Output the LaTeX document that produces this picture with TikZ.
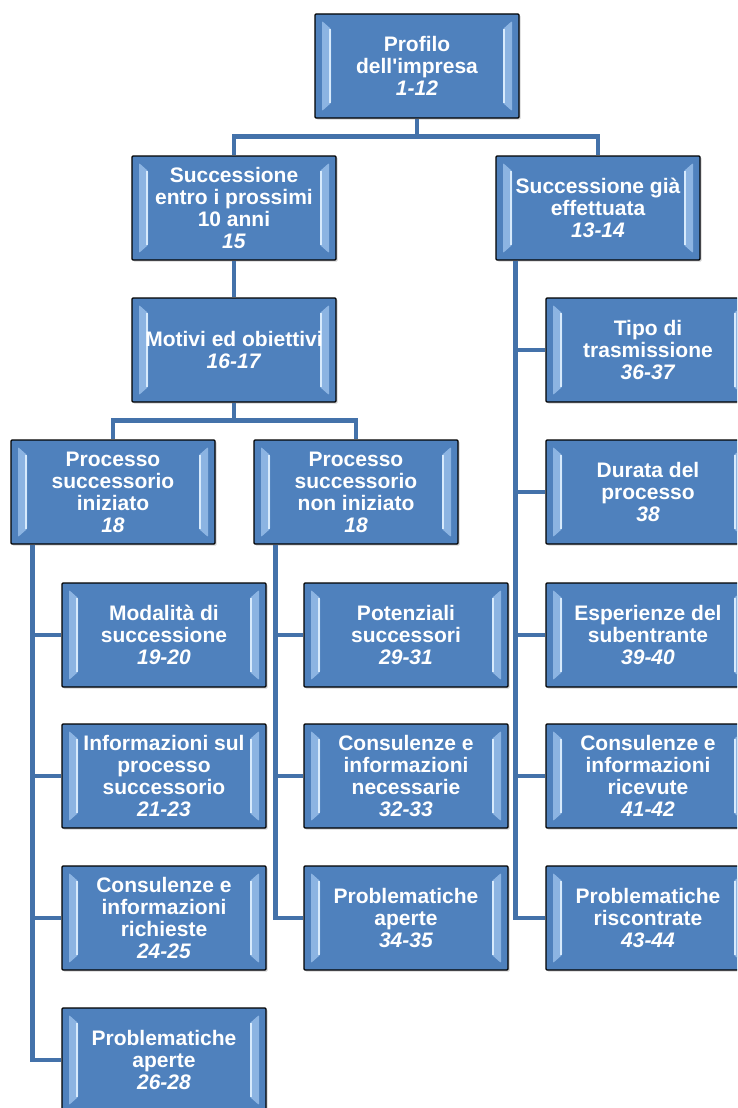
\documentclass[tikz,border=0pt]{standalone}
\usepackage{fontspec}
\setmainfont{Liberation Sans}
\usetikzlibrary{shadows}
\definecolor{boxblue}{RGB}{79,129,189}
\definecolor{bevelmid}{RGB}{140,180,226}
\definecolor{bevellight}{RGB}{215,234,252}
\definecolor{linkblue}{RGB}{68,114,170}
\newcommand{\nr}[1]{\textit{#1}}

\tikzset{
  bevel/.style={
    path picture={
      \fill[bevelmid]
        ([shift={(7pt,-7pt)}]path picture bounding box.north west) -- ++(9pt,-8pt)
        -- ([shift={(16pt,15pt)}]path picture bounding box.south west) -- ++(-9pt,-8pt) -- cycle;
      \draw[bevellight,line width=1.6pt]
        ([shift={(15pt,-15pt)}]path picture bounding box.north west)
        -- ([shift={(15pt,15pt)}]path picture bounding box.south west);
      \fill[bevelmid]
        ([shift={(-7pt,-7pt)}]path picture bounding box.north east) -- ++(-9pt,-8pt)
        -- ([shift={(-16pt,15pt)}]path picture bounding box.south east) -- ++(9pt,-8pt) -- cycle;
      \draw[bevellight,line width=1.6pt]
        ([shift={(-15pt,-15pt)}]path picture bounding box.north east)
        -- ([shift={(-15pt,15pt)}]path picture bounding box.south east);
    }},
  box/.style={draw=black,line width=1.3pt,fill=boxblue,rounded corners=1pt,
    minimum width=204pt,minimum height=104pt,inner sep=0pt,align=center,
    text=white,font=\fontsize{21}{22}\selectfont\bfseries,bevel,
    drop shadow={shadow xshift=1.5pt,shadow yshift=-1.5pt,opacity=0.35}},
  link/.style={draw=linkblue,line width=4.5pt}
}

\begin{document}
\begin{tikzpicture}[x=1pt,y=1pt]
  \useasboundingbox (0,0) rectangle (737,-1108);
  \clip (0,0) rectangle (737,-1108);

  \node[box] (top)    at (417,-66)  {Profilo\\dell\textquotesingle impresa\\\nr{1-12}};
  \node[box] (succA)  at (234,-208) {Successione\\entro i prossimi\\10 anni\\\nr{15}};
  \node[box] (succB)  at (598,-208) {Successione già\\effettuata\\\nr{13-14}};
  \node[box] (motivi) at (234,-350) {Motivi ed obiettivi\\\nr{16-17}};
  \node[box] (procA)  at (113,-492) {Processo\\successorio\\iniziato\\\nr{18}};
  \node[box] (procB)  at (356,-492) {Processo\\successorio\\non iniziato\\\nr{18}};

  \node[box] (a1) at (164,-635)  {Modalità di\\successione\\\nr{19-20}};
  \node[box] (a2) at (164,-776)  {Informazioni sul\\processo\\successorio\\\nr{21-23}};
  \node[box] (a3) at (164,-918)  {Consulenze e\\informazioni\\richieste\\\nr{24-25}};
  \node[box] (a4) at (164,-1060) {Problematiche\\aperte\\\nr{26-28}};

  \node[box] (b1) at (406,-635) {Potenziali\\successori\\\nr{29-31}};
  \node[box] (b2) at (406,-776) {Consulenze e\\informazioni\\necessarie\\\nr{32-33}};
  \node[box] (b3) at (406,-918) {Problematiche\\aperte\\\nr{34-35}};

  \node[box] (c1) at (648,-350) {Tipo di\\trasmissione\\\nr{36-37}};
  \node[box] (c2) at (648,-492) {Durata del\\processo\\\nr{38}};
  \node[box] (c3) at (648,-635) {Esperienze del\\subentrante\\\nr{39-40}};
  \node[box] (c4) at (648,-776) {Consulenze e\\informazioni\\ricevute\\\nr{41-42}};
  \node[box] (c5) at (648,-918) {Problematiche\\riscontrate\\\nr{43-44}};

  \foreach \n in {succA,succB} {
    \draw[link] (top.south) -- ++(0,-18) -| (\n.north);
  }
  \draw[link] (succA.south) -- (motivi.north);
  \foreach \n in {procA,procB} {
    \draw[link] (motivi.south) -- ++(0,-18) -| (\n.north);
  }
  \foreach \n in {a1,a2,a3,a4} {
    \draw[link] ([xshift=22]procA.south west) |- (\n.west);
  }
  \foreach \n in {b1,b2,b3} {
    \draw[link] ([xshift=22]procB.south west) |- (\n.west);
  }
  \foreach \n in {c1,c2,c3,c4,c5} {
    \draw[link] ([xshift=20]succB.south west) |- (\n.west);
  }
\end{tikzpicture}
\end{document}
